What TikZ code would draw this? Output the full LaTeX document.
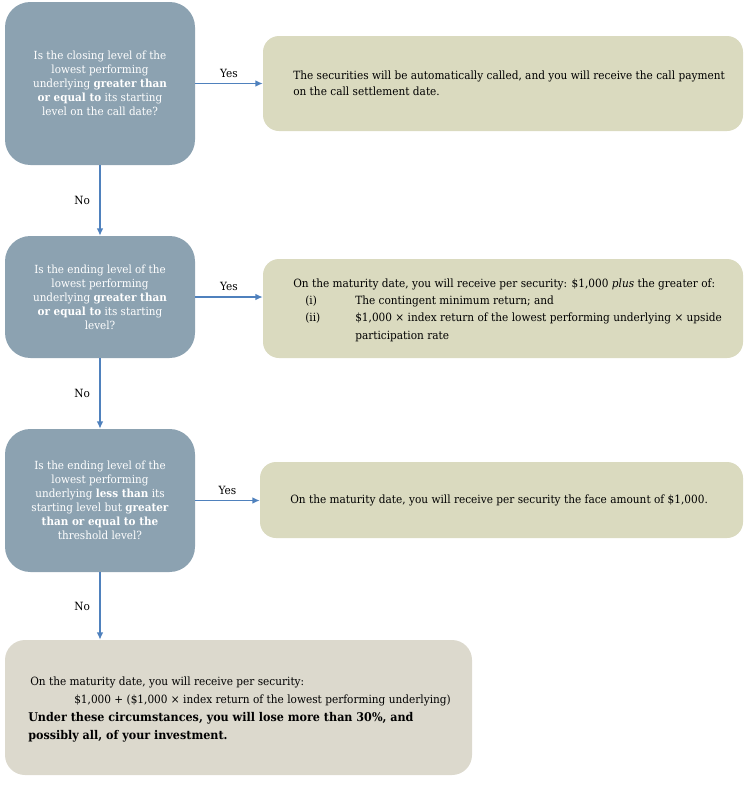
\documentclass[tikz,border=0pt]{standalone}
\usepackage{fontspec}
\setmainfont[FakeStretch=0.93]{DejaVu Serif}
\usetikzlibrary{arrows.meta}
\definecolor{qblue}{HTML}{8CA2B1}
\definecolor{ansg}{HTML}{DADABF}
\definecolor{endg}{HTML}{DCD9CD}
\definecolor{arrowc}{HTML}{4F81BD}
\begin{document}
\begin{tikzpicture}[x=0.75pt,y=-0.75pt,
 qbox/.style={fill=qblue, rounded corners=19pt, text=white, align=center, font=\fontsize{8.4}{10.5}\selectfont, inner sep=0pt, minimum width=142.5pt},
 abox/.style={fill=ansg, rounded corners=12pt, inner sep=0pt},
 ebox/.style={fill=endg, rounded corners=15pt, inner sep=0pt},
 atext/.style={anchor=west, align=left, font=\fontsize{8.5}{12}\selectfont, inner sep=0pt},
 conn/.style={draw=arrowc, line width=1pt, -{Latex[length=5.5pt,width=5pt]}},
 lab/.style={font=\fontsize{8.5}{10}\selectfont, inner sep=0pt}
]
\useasboundingbox (0,0) rectangle (753,789);

\node[qbox, minimum height=122.25pt] (q1) at (100,83.5) {Is the closing level of the\\ lowest performing\\ underlying \textbf{greater than}\\ \textbf{or equal to} its starting\\ level on the call date?};
\node[qbox, minimum height=91.5pt] (q2) at (100,297) {Is the ending level of the\\ lowest performing\\ underlying \textbf{greater than}\\ \textbf{or equal to} its starting\\ level?};
\node[qbox, minimum height=107.25pt] (q3) at (100,500.5) {Is the ending level of the\\ lowest performing\\ underlying \textbf{less than} its\\ starting level but \textbf{greater}\\ \textbf{than or equal to the}\\ threshold level?};

\node[abox, minimum width=360pt, minimum height=71.25pt] (r1) at (503,83.5) {};
\node[atext] (r1t) at (293,83.5) {The securities will be automatically called, and you will receive the call payment\\ on the call settlement date.};

\node[abox, minimum width=360pt, minimum height=74.25pt] (r2) at (503,308.5) {};
\node[atext, font=\fontsize{8.5}{13}\selectfont] (r2t) at (293,310) {On the maturity date, you will receive per security: \$1,000 \textit{plus} the greater of:\\
\hspace*{9pt}\makebox[37.5pt][l]{(i)}The contingent minimum return; and\\
\hspace*{9pt}\makebox[37.5pt][l]{(ii)}\$1,000 × index return of the lowest performing underlying × upside\\
\hspace*{46.5pt}participation rate};

\node[abox, minimum width=362.25pt, minimum height=57pt] (r3) at (501.5,500) {};
\node[atext] (r3t) at (290,500) {On the maturity date, you will receive per security the face amount of \$1,000.};

\node[ebox, minimum width=350.25pt, minimum height=101.25pt] (e) at (238.5,707.5) {};
\node[atext, font=\fontsize{8.5}{13.5}\selectfont] (et) at (28,710) {\hspace*{1.5pt}On the maturity date, you will receive per security:\\
\hspace*{34.5pt}\$1,000 + (\$1,000 × index return of the lowest performing underlying)\\
{\fontsize{9}{13.5}\selectfont\bfseries Under these circumstances, you will lose more than 30\%, and}\\
{\fontsize{9}{13.5}\selectfont\bfseries possibly all, of your investment.}};

\draw[conn] (q1.east) -- node[lab, above=4pt] {Yes} (q1.east -| r1.west);
\draw[conn] (q2.east) -- node[lab, above=4pt] {Yes} (q2.east -| r2.west);
\draw[conn] (q3.east) -- node[lab, above=4pt] {Yes} (q3.east -| r3.west);

\draw[conn] (q1.south) -- node[lab, left=7pt] {No} (q2.north);
\draw[conn] (q2.south) -- node[lab, left=7pt] {No} (q3.north);
\draw[conn] (q3.south) -- node[lab, left=7pt] {No} (q3.south |- e.north);
\end{tikzpicture}
\end{document}
